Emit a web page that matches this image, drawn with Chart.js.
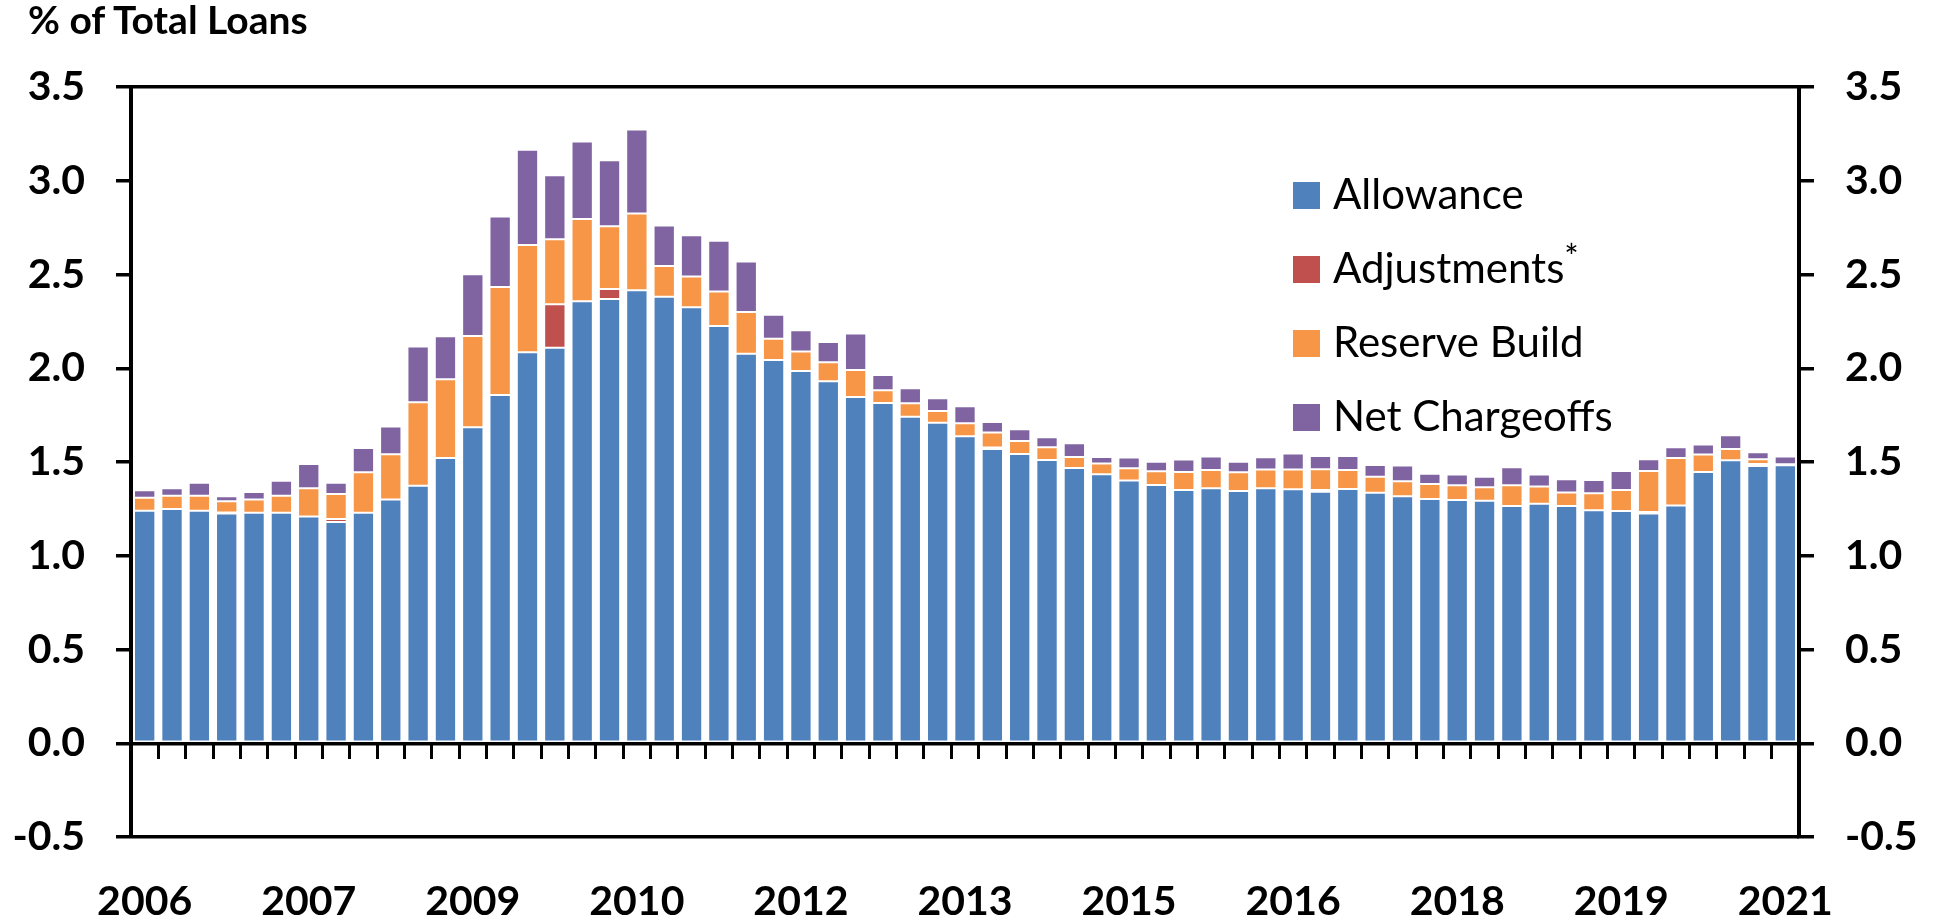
<!DOCTYPE html>
<html>
<head>
<meta charset="utf-8">
<script src="https://cdn.jsdelivr.net/npm/chart.js@4.4.1/dist/chart.umd.min.js"></script>
<style>
  body { margin: 0; background: #fff; font-family: Lato, sans-serif; }
  #wrap { position: relative; width: 1938px; height: 921px; }
  #title { position: absolute; left: 28px; top: 0px; font-size: 39px; font-weight: bold; line-height: 1; white-space: nowrap; }
  .sw { position: absolute; left: 1293px; width: 27px; height: 27px; }
  .lbl { position: absolute; left: 1333px; font-size: 42px; line-height: 1; white-space: nowrap; }
  .lbl sup { font-size: 34px; vertical-align: 0; position: relative; top: -14px; }
</style>
</head>
<body>
<div id="wrap">
  <canvas id="loans" width="1938" height="921"></canvas>
  <div id="title">% of Total Loans</div>
  <div id="legend"></div>
</div>
<script>
// quarterly, 2006Q1 .. 2021Q1
const quarters = [
  '2006Q1','2006Q2','2006Q3','2006Q4','2007Q1','2007Q2','2007Q3','2007Q4',
  '2008Q1','2008Q2','2008Q3','2008Q4','2009Q1','2009Q2','2009Q3','2009Q4',
  '2010Q1','2010Q2','2010Q3','2010Q4','2011Q1','2011Q2','2011Q3','2011Q4',
  '2012Q1','2012Q2','2012Q3','2012Q4','2013Q1','2013Q2','2013Q3','2013Q4',
  '2014Q1','2014Q2','2014Q3','2014Q4','2015Q1','2015Q2','2015Q3','2015Q4',
  '2016Q1','2016Q2','2016Q3','2016Q4','2017Q1','2017Q2','2017Q3','2017Q4',
  '2018Q1','2018Q2','2018Q3','2018Q4','2019Q1','2019Q2','2019Q3','2019Q4',
  '2020Q1','2020Q2','2020Q3','2020Q4','2021Q1'
];
// one label every 6 quarters
const yearTicks = ['2006','2007','2009','2010','2012','2013','2015','2016','2018','2019','2021'];

const allowance = [
  1.24,1.25,1.24,1.225,1.23,1.23,1.21,1.18,1.23,1.30,
  1.374,1.522,1.685,1.858,2.085,2.11,2.357,2.37,2.416,2.382,
  2.325,2.226,2.078,2.044,1.986,1.931,1.847,1.815,1.742,1.71,
  1.637,1.57,1.543,1.511,1.468,1.435,1.401,1.378,1.351,1.36,
  1.346,1.36,1.355,1.342,1.356,1.336,1.318,1.303,1.298,1.294,
  1.266,1.278,1.266,1.243,1.239,1.225,1.268,1.447,1.509,1.479,1.483
];
const adjustments = [
  0,0,0,0.006,0,0,0,0.016,0,0,
  0,0,0,0,0,0.231,0,0.053,0,0,
  0,0,0,0,0,0,0,0,0,0,
  0,0.007,0,0,0,0,0,0,0,0,
  0,0,0,0.009,0,0,0,0,0,0,
  0,0,0,0,0,0.009,0,0,0,0.011,0
];
const reserveBuild = [
  0.07,0.07,0.08,0.06,0.07,0.09,0.15,0.134,0.215,0.242,
  0.445,0.419,0.487,0.576,0.572,0.347,0.439,0.334,0.409,0.163,
  0.164,0.184,0.222,0.114,0.103,0.101,0.144,0.068,0.071,0.062,
  0.07,0.08,0.069,0.068,0.059,0.057,0.066,0.073,0.096,0.098,
  0.099,0.10,0.105,0.11,0.102,0.086,0.079,0.08,0.078,0.071,
  0.11,0.091,0.071,0.09,0.112,0.218,0.254,0.093,0.061,0.025,0.005
];
const netChargeoffs = [
  0.04,0.04,0.07,0.026,0.04,0.08,0.13,0.06,0.13,0.147,
  0.297,0.23,0.33,0.375,0.509,0.342,0.413,0.352,0.448,0.217,
  0.22,0.27,0.27,0.128,0.114,0.108,0.194,0.081,0.08,0.068,
  0.09,0.057,0.063,0.053,0.073,0.035,0.057,0.051,0.066,0.071,
  0.057,0.065,0.085,0.071,0.074,0.062,0.085,0.055,0.057,0.057,
  0.096,0.064,0.071,0.071,0.101,0.063,0.057,0.053,0.073,0.037,0.042
];

const seriesNames = ['Allowance', 'Adjustments', 'Reserve Build', 'Net Chargeoffs'];
const seriesMarks = ['', '*', '', ''];
const seriesColors = ['#4F81BD', '#C0504D', '#F79646', '#8064A2'];
const seriesData = [allowance, adjustments, reserveBuild, netChargeoffs];

Chart.defaults.font.family = 'Lato';
Chart.defaults.color = '#000';
const axisFont = { size: 41, weight: 'bold' };
const edgeValues = [3.5, 0, -0.5];

const datasets = seriesNames.map((name, k) => ({
  label: name,
  data: seriesData[k],
  backgroundColor: seriesColors[k],
  borderColor: 'rgba(255,255,255,0.35)',
  borderWidth: 1,
  borderSkipped: false,
  barPercentage: 0.78,
  categoryPercentage: 1
}));

const yTicks = {
  stepSize: 0.5,
  padding: 31,
  font: axisFont,
  callback: v => v.toFixed(1)
};

const chart = new Chart(document.getElementById('loans'), {
  type: 'bar',
  data: { labels: quarters, datasets: datasets },
  options: {
    responsive: false,
    animation: false,
    devicePixelRatio: 1,
    layout: { padding: { top: 87, left: 0, right: 0, bottom: 0 } },
    plugins: { legend: { display: false }, tooltip: { enabled: false } },
    scales: {
      x: {
        stacked: true,
        position: 'bottom',
        grid: { display: false, drawTicks: false },
        border: { display: false },
        ticks: {
          autoSkip: false, maxRotation: 0, minRotation: 0, padding: 40, font: axisFont,
          callback: (v, i) => (i % 6 === 0 ? yearTicks[i / 6] : '')
        },
        afterFit: s => { s.height = 84; }
      },
      // tick marks hanging under the zero line
      x2: {
        type: 'category',
        position: { y: 0 },
        offset: true,
        grid: { display: true, offset: true, drawOnChartArea: false, tickLength: 16, tickColor: '#000', lineWidth: 3 },
        border: { display: false },
        ticks: { display: false }
      },
      y: {
        stacked: true,
        position: 'left',
        min: -0.5, max: 3.5,
        z: 1,
        ticks: yTicks,
        grid: {
          lineWidth: 3.5,
          tickLength: 15,
          tickColor: '#000',
          color: c => (edgeValues.includes(c.tick.value) ? '#000' : 'rgba(0,0,0,0)')
        },
        border: { display: true, color: '#000', width: 4 },
        afterFit: s => { s.width = 131; }
      },
      y2: {
        type: 'linear',
        position: 'right',
        min: -0.5, max: 3.5,
        ticks: yTicks,
        grid: { drawOnChartArea: false, lineWidth: 3.5, tickLength: 15, tickColor: '#000' },
        border: { display: true, color: '#000', width: 4 },
        afterFit: s => { s.width = 139; }
      }
    }
  }
});

// legend inside the plot, right side
const legend = document.getElementById('legend');
seriesNames.forEach((name, k) => {
  const base = 209 + k * 74;
  const sw = document.createElement('div');
  sw.className = 'sw';
  sw.style.top = (base - 27) + 'px';
  sw.style.background = seriesColors[k];
  legend.appendChild(sw);
  const lbl = document.createElement('div');
  lbl.className = 'lbl';
  lbl.style.top = (base - 37) + 'px';
  lbl.textContent = name;
  if (seriesMarks[k]) {
    const sup = document.createElement('sup');
    sup.textContent = seriesMarks[k];
    lbl.appendChild(sup);
  }
  legend.appendChild(lbl);
});
</script>
</body>
</html>
